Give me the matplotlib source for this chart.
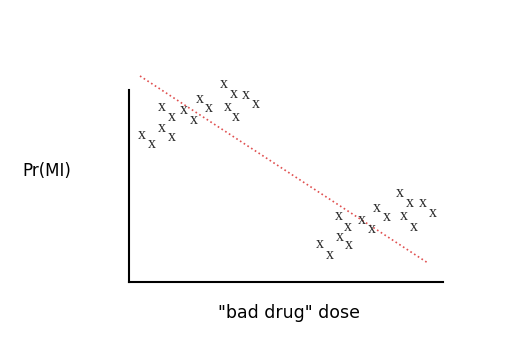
import matplotlib
matplotlib.use('Agg')
from matplotlib import pyplot as plt

# dose (0-100) and Pr(MI) (0-1 on the drawn axis)
low_dose = [4.1, 7.3, 10.5, 13.7, 10.5, 13.7, 17.5, 20.7,
            22.6, 25.5, 30.3, 33.4, 31.5, 34.1, 37.3, 40.4]
low_pr = [0.766, 0.719, 0.802, 0.755, 0.911, 0.859, 0.896, 0.844,
          0.953, 0.906, 1.031, 0.979, 0.911, 0.859, 0.974, 0.927]

high_dose = [60.8, 64.0, 67.0, 70.1, 66.9, 69.8, 74.1, 77.2,
             78.9, 82.1, 86.3, 89.5, 87.6, 90.8, 93.7, 96.9]
high_pr = [0.196, 0.141, 0.236, 0.193, 0.345, 0.288, 0.323, 0.276,
           0.387, 0.340, 0.462, 0.413, 0.345, 0.288, 0.410, 0.358]

fit_dose = [3.5, 95.2]
fit_pr = [1.073, 0.099]

fig = plt.figure(figsize=(5.22, 3.49), dpi=100)
ax = fig.add_axes([129 / 522, 1 - 282 / 349, 314 / 522, 230.4 / 349])
ax.set_xlim(0, 100)
ax.set_ylim(0, 1.2)

for x, y in zip(low_dose + high_dose, low_pr + high_pr):
    ax.text(x, y, 'x', ha='center', va='center', fontsize=11.5,
            family='Liberation Serif', color='#2a2a2a')

ax.plot(fit_dose, fit_pr, ':', color='#e05050', lw=1.2)

for s in ['top', 'right']:
    ax.spines[s].set_visible(False)
ax.spines['left'].set_bounds(0, 1)
ax.spines['left'].set_linewidth(1.5)
ax.spines['bottom'].set_linewidth(1.5)
ax.set_xticks([])
ax.set_yticks([])
ax.patch.set_visible(False)

fig.text(47 / 522, 1 - 171 / 349, 'Pr(MI)', ha='center', va='center', fontsize=12)
fig.text(289 / 522, 1 - 313 / 349, '"bad drug" dose', ha='center', va='center', fontsize=12.5)

plt.savefig('out.png', dpi=100)
